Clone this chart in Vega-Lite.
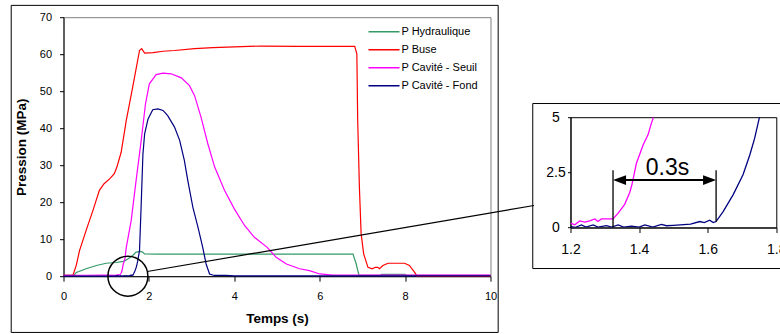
{
 "$schema": "https://vega.github.io/schema/vega-lite/v6.json",
 "background": "white",
 "padding": {"left": 9.5, "top": 4.2, "right": 0, "bottom": 0},
 "config": {"font": "Liberation Sans", "view": {"stroke": null},
   "axis": {"grid": false, "labelFlush": false, "labelOverlap": false, "domainColor": "black", "tickColor": "black", "labelColor": "black", "titleColor": "black", "titleFontWeight": "bold"}},
 "datasets": {
  "one": [{}],
  "curves": [
   {"s":"P Hydraulique","t":0,"v":0.2},{"s":"P Hydraulique","t":0.25,"v":0.3},{"s":"P Hydraulique","t":0.3,"v":1.0},{"s":"P Hydraulique","t":0.53,"v":2.0},{"s":"P Hydraulique","t":0.77,"v":2.9},{"s":"P Hydraulique","t":1.0,"v":3.5},{"s":"P Hydraulique","t":1.23,"v":3.7},{"s":"P Hydraulique","t":1.4,"v":4.0},{"s":"P Hydraulique","t":1.47,"v":4.4},{"s":"P Hydraulique","t":1.55,"v":5.0},{"s":"P Hydraulique","t":1.62,"v":5.6},{"s":"P Hydraulique","t":1.7,"v":6.5},{"s":"P Hydraulique","t":1.8,"v":6.7},{"s":"P Hydraulique","t":1.85,"v":6.5},{"s":"P Hydraulique","t":1.9,"v":6.0},{"s":"P Hydraulique","t":2.2,"v":5.95},{"s":"P Hydraulique","t":4.0,"v":5.95},{"s":"P Hydraulique","t":6.78,"v":5.95},{"s":"P Hydraulique","t":6.85,"v":3.5},{"s":"P Hydraulique","t":6.92,"v":0.2},{"s":"P Hydraulique","t":7.4,"v":0.2},{"s":"P Hydraulique","t":7.45,"v":0.5},{"s":"P Hydraulique","t":8.0,"v":0.5},{"s":"P Hydraulique","t":8.05,"v":0.2},{"s":"P Hydraulique","t":10,"v":0.2},
   {"s":"P Buse","t":0,"v":0.2},{"s":"P Buse","t":0.22,"v":0.2},{"s":"P Buse","t":0.3,"v":3.0},{"s":"P Buse","t":0.375,"v":6.9},{"s":"P Buse","t":0.53,"v":12.4},{"s":"P Buse","t":0.69,"v":17.8},{"s":"P Buse","t":0.84,"v":23.2},{"s":"P Buse","t":0.95,"v":25.0},{"s":"P Buse","t":1.08,"v":26.3},{"s":"P Buse","t":1.19,"v":27.7},{"s":"P Buse","t":1.25,"v":29.5},{"s":"P Buse","t":1.35,"v":33.5},{"s":"P Buse","t":1.47,"v":42.1},{"s":"P Buse","t":1.62,"v":51.1},{"s":"P Buse","t":1.78,"v":61.0},{"s":"P Buse","t":1.83,"v":61.5},{"s":"P Buse","t":1.9,"v":60.3},{"s":"P Buse","t":2.1,"v":60.4},{"s":"P Buse","t":2.33,"v":60.8},{"s":"P Buse","t":2.6,"v":61.0},{"s":"P Buse","t":3.07,"v":61.5},{"s":"P Buse","t":3.5,"v":61.8},{"s":"P Buse","t":4.0,"v":62.0},{"s":"P Buse","t":4.63,"v":62.2},{"s":"P Buse","t":5.5,"v":62.1},{"s":"P Buse","t":6.82,"v":62.1},{"s":"P Buse","t":6.87,"v":60.1},{"s":"P Buse","t":6.89,"v":42.0},{"s":"P Buse","t":6.93,"v":24.0},{"s":"P Buse","t":6.97,"v":11.5},{"s":"P Buse","t":7.03,"v":6.0},{"s":"P Buse","t":7.13,"v":2.4},{"s":"P Buse","t":7.23,"v":2.0},{"s":"P Buse","t":7.3,"v":2.4},{"s":"P Buse","t":7.36,"v":2.4},{"s":"P Buse","t":7.4,"v":2.0},{"s":"P Buse","t":7.48,"v":2.9},{"s":"P Buse","t":7.6,"v":3.5},{"s":"P Buse","t":7.75,"v":3.5},{"s":"P Buse","t":7.99,"v":3.5},{"s":"P Buse","t":8.1,"v":2.9},{"s":"P Buse","t":8.22,"v":1.1},{"s":"P Buse","t":8.28,"v":0},{"s":"P Buse","t":10,"v":0},
   {"s":"P Cavité - Seuil","t":0,"v":0.2},{"s":"P Cavité - Seuil","t":0.5,"v":0.25},{"s":"P Cavité - Seuil","t":1.0,"v":0.3},{"s":"P Cavité - Seuil","t":1.2,"v":0.2},{"s":"P Cavité - Seuil","t":1.2125,"v":0.12},{"s":"P Cavité - Seuil","t":1.227,"v":0.3},{"s":"P Cavité - Seuil","t":1.242,"v":0.24},{"s":"P Cavité - Seuil","t":1.256,"v":0.3},{"s":"P Cavité - Seuil","t":1.271,"v":0.39},{"s":"P Cavité - Seuil","t":1.28,"v":0.27},{"s":"P Cavité - Seuil","t":1.29,"v":0.39},{"s":"P Cavité - Seuil","t":1.324,"v":0.39},{"s":"P Cavité - Seuil","t":1.339,"v":0.65},{"s":"P Cavité - Seuil","t":1.358,"v":1.05},{"s":"P Cavité - Seuil","t":1.373,"v":1.6},{"s":"P Cavité - Seuil","t":1.38,"v":2.0},{"s":"P Cavité - Seuil","t":1.392,"v":2.9},{"s":"P Cavité - Seuil","t":1.412,"v":3.75},{"s":"P Cavité - Seuil","t":1.426,"v":4.2},{"s":"P Cavité - Seuil","t":1.436,"v":4.73},{"s":"P Cavité - Seuil","t":1.442,"v":5.0},{"s":"P Cavité - Seuil","t":1.47,"v":7.8},{"s":"P Cavité - Seuil","t":1.585,"v":15.0},{"s":"P Cavité - Seuil","t":1.7,"v":25.9},{"s":"P Cavité - Seuil","t":1.82,"v":36.7},{"s":"P Cavité - Seuil","t":1.92,"v":46.6},{"s":"P Cavité - Seuil","t":2.01,"v":52.0},{"s":"P Cavité - Seuil","t":2.17,"v":54.5},{"s":"P Cavité - Seuil","t":2.33,"v":54.9},{"s":"P Cavité - Seuil","t":2.52,"v":54.7},{"s":"P Cavité - Seuil","t":2.76,"v":53.6},{"s":"P Cavité - Seuil","t":2.95,"v":51.5},{"s":"P Cavité - Seuil","t":3.07,"v":48.8},{"s":"P Cavité - Seuil","t":3.22,"v":43.0},{"s":"P Cavité - Seuil","t":3.38,"v":35.8},{"s":"P Cavité - Seuil","t":3.54,"v":29.5},{"s":"P Cavité - Seuil","t":3.77,"v":23.2},{"s":"P Cavité - Seuil","t":4.0,"v":18.2},{"s":"P Cavité - Seuil","t":4.24,"v":13.7},{"s":"P Cavité - Seuil","t":4.47,"v":10.5},{"s":"P Cavité - Seuil","t":4.77,"v":7.8},{"s":"P Cavité - Seuil","t":4.98,"v":5.1},{"s":"P Cavité - Seuil","t":5.22,"v":3.3},{"s":"P Cavité - Seuil","t":5.53,"v":2.0},{"s":"P Cavité - Seuil","t":5.76,"v":1.5},{"s":"P Cavité - Seuil","t":6.0,"v":0.6},{"s":"P Cavité - Seuil","t":6.3,"v":0.3},{"s":"P Cavité - Seuil","t":10,"v":0.3},
   {"s":"P Cavité - Fond","t":0,"v":0},{"s":"P Cavité - Fond","t":1.0,"v":0.02},{"s":"P Cavité - Fond","t":1.2,"v":0.05},{"s":"P Cavité - Fond","t":1.213,"v":0.0},{"s":"P Cavité - Fond","t":1.232,"v":0.12},{"s":"P Cavité - Fond","t":1.245,"v":0.02},{"s":"P Cavité - Fond","t":1.266,"v":0.12},{"s":"P Cavité - Fond","t":1.28,"v":0.02},{"s":"P Cavité - Fond","t":1.305,"v":0.08},{"s":"P Cavité - Fond","t":1.32,"v":0.02},{"s":"P Cavité - Fond","t":1.339,"v":0.12},{"s":"P Cavité - Fond","t":1.355,"v":0.02},{"s":"P Cavité - Fond","t":1.378,"v":0.06},{"s":"P Cavité - Fond","t":1.4,"v":0.02},{"s":"P Cavité - Fond","t":1.417,"v":0.12},{"s":"P Cavité - Fond","t":1.44,"v":0.02},{"s":"P Cavité - Fond","t":1.465,"v":0.14},{"s":"P Cavité - Fond","t":1.48,"v":0.08},{"s":"P Cavité - Fond","t":1.5,"v":0.1},{"s":"P Cavité - Fond","t":1.52,"v":0.12},{"s":"P Cavité - Fond","t":1.55,"v":0.15},{"s":"P Cavité - Fond","t":1.577,"v":0.27},{"s":"P Cavité - Fond","t":1.59,"v":0.22},{"s":"P Cavité - Fond","t":1.606,"v":0.33},{"s":"P Cavité - Fond","t":1.616,"v":0.22},{"s":"P Cavité - Fond","t":1.6245,"v":0.27},{"s":"P Cavité - Fond","t":1.645,"v":0.72},{"s":"P Cavité - Fond","t":1.674,"v":1.48},{"s":"P Cavité - Fond","t":1.703,"v":2.39},{"s":"P Cavité - Fond","t":1.723,"v":3.3},{"s":"P Cavité - Fond","t":1.737,"v":4.05},{"s":"P Cavité - Fond","t":1.751,"v":5.0},{"s":"P Cavité - Fond","t":1.78,"v":6.9},{"s":"P Cavité - Fond","t":1.82,"v":19.6},{"s":"P Cavité - Fond","t":1.86,"v":33.0},{"s":"P Cavité - Fond","t":1.9,"v":38.5},{"s":"P Cavité - Fond","t":1.98,"v":42.5},{"s":"P Cavité - Fond","t":2.09,"v":45.0},{"s":"P Cavité - Fond","t":2.21,"v":45.2},{"s":"P Cavité - Fond","t":2.33,"v":44.8},{"s":"P Cavité - Fond","t":2.44,"v":43.4},{"s":"P Cavité - Fond","t":2.6,"v":40.3},{"s":"P Cavité - Fond","t":2.72,"v":36.7},{"s":"P Cavité - Fond","t":2.83,"v":31.3},{"s":"P Cavité - Fond","t":2.91,"v":25.9},{"s":"P Cavité - Fond","t":3.03,"v":18.6},{"s":"P Cavité - Fond","t":3.15,"v":13.2},{"s":"P Cavité - Fond","t":3.26,"v":7.8},{"s":"P Cavité - Fond","t":3.34,"v":3.3},{"s":"P Cavité - Fond","t":3.42,"v":0.6},{"s":"P Cavité - Fond","t":3.53,"v":0.2},{"s":"P Cavité - Fond","t":3.8,"v":0.2},{"s":"P Cavité - Fond","t":4.0,"v":0.1},{"s":"P Cavité - Fond","t":10,"v":0.1}
  ]
 },
 "spacing": -4,
 "resolve": {"scale": {"x": "independent", "y": "independent"}},
 "hconcat": [
  {
   "width": 427, "height": 259,
   "view": {"stroke": "#808080"},
   "layer": [
    {
     "data": {"name": "curves"},
     "mark": {"type": "line", "strokeWidth": 1.2},
     "encoding": {
      "x": {"field": "t", "type": "quantitative", "scale": {"domain": [0, 10], "nice": false},
        "axis": {"title": "Temps (s)", "values": [0, 2, 4, 6, 8, 10], "tickSize": 5, "labelPadding": 9, "labelFontSize": 11, "titleFontSize": 13.5, "titlePadding": 10.5}},
      "y": {"field": "v", "type": "quantitative", "scale": {"domain": [0, 70], "nice": false},
        "axis": {"title": "Pression (MPa)", "values": [0, 10, 20, 30, 40, 50, 60, 70], "tickSize": 4, "labelPadding": 8, "labelFontSize": 11, "titleFontSize": 13.5, "titlePadding": 11}},
      "color": {"field": "s", "type": "nominal",
        "scale": {"domain": ["P Hydraulique", "P Buse", "P Cavité - Seuil", "P Cavité - Fond"], "range": ["#339966", "#FF0000", "#FF00FF", "#000080"]},
        "legend": {"orient": "none", "legendX": 304, "legendY": 6, "title": null, "symbolType": "stroke", "symbolSize": 961, "symbolStrokeWidth": 1.5, "labelFontSize": 11, "labelColor": "black", "labelOffset": 1, "clipHeight": 17.3, "rowPadding": 0, "padding": 0}}
     }
    },
    {
     "data": {"name": "one"},
     "mark": {"type": "rect", "fill": null, "stroke": "black", "strokeWidth": 1},
     "encoding": {
      "x": {"datum": -1.225, "type": "quantitative", "scale": {"domain": [0, 10], "nice": false},
        "axis": {"title": "Temps (s)", "values": [0, 2, 4, 6, 8, 10], "tickSize": 5, "labelPadding": 9, "labelFontSize": 11, "titleFontSize": 13.5, "titlePadding": 10.5}},
      "x2": {"datum": 10.18},
      "y": {"datum": 73.2, "type": "quantitative", "scale": {"domain": [0, 70], "nice": false},
        "axis": {"title": "Pression (MPa)", "values": [0, 10, 20, 30, 40, 50, 60, 70], "tickSize": 4, "labelPadding": 8, "labelFontSize": 11, "titleFontSize": 13.5, "titlePadding": 11}},
      "y2": {"datum": -15.2}
     }
    },
    {
     "data": {"name": "one"},
     "mark": {"type": "point", "shape": "circle", "size": 1600, "filled": false, "stroke": "black", "strokeWidth": 1.5, "opacity": 1},
     "encoding": {
      "x": {"datum": 1.508, "type": "quantitative", "scale": {"domain": [0, 10], "nice": false},
        "axis": {"title": "Temps (s)", "values": [0, 2, 4, 6, 8, 10], "tickSize": 5, "labelPadding": 9, "labelFontSize": 11, "titleFontSize": 13.5, "titlePadding": 10.5}},
      "y": {"datum": 0, "type": "quantitative", "scale": {"domain": [0, 70], "nice": false},
        "axis": {"title": "Pression (MPa)", "values": [0, 10, 20, 30, 40, 50, 60, 70], "tickSize": 4, "labelPadding": 8, "labelFontSize": 11, "titleFontSize": 13.5, "titlePadding": 11}}
     }
    },
    {
     "data": {"name": "one"},
     "mark": {"type": "rule", "stroke": "black", "strokeWidth": 1.2},
     "encoding": {
      "x": {"datum": 1.96, "type": "quantitative", "scale": {"domain": [0, 10], "nice": false},
        "axis": {"title": "Temps (s)", "values": [0, 2, 4, 6, 8, 10], "tickSize": 5, "labelPadding": 9, "labelFontSize": 11, "titleFontSize": 13.5, "titlePadding": 10.5}},
      "x2": {"datum": 11.02},
      "y": {"datum": 1.27, "type": "quantitative", "scale": {"domain": [0, 70], "nice": false},
        "axis": {"title": "Pression (MPa)", "values": [0, 10, 20, 30, 40, 50, 60, 70], "tickSize": 4, "labelPadding": 8, "labelFontSize": 11, "titleFontSize": 13.5, "titlePadding": 11}},
      "y2": {"datum": 19.1}
     }
    }
   ]
  },
  {
   "spacing": 0,
   "vconcat": [
    {
     "width": 10, "height": 84.8,
     "view": {"stroke": null},
     "data": {"name": "one"},
     "mark": {"type": "text", "text": ""},
     "encoding": {}
    },
    {
     "width": 205.8, "height": 110.3,
     "view": {"stroke": "black"},
     "layer": [
      {
       "data": {"name": "curves"},
       "transform": [{"filter": "datum.s == 'P Cavité - Seuil' && datum.t >= 1.2 && datum.t <= 1.8 && datum.v <= 5.05"}],
       "mark": {"type": "line", "stroke": "#FF00FF", "strokeWidth": 1.3, "clip": true},
       "encoding": {
        "x": {"field": "t", "type": "quantitative", "scale": {"domain": [1.2, 1.8], "nice": false, "zero": false},
          "axis": {"title": null, "values": [1.2, 1.4, 1.6, 1.8], "format": ".1f", "tickSize": 5, "labelPadding": 10, "labelFontSize": 14}},
        "y": {"field": "v", "type": "quantitative", "scale": {"domain": [0, 5], "nice": false},
          "axis": {"title": null, "values": [0, 2.5, 5], "format": ".1~f", "tickSize": 3, "labelPadding": 12, "labelAlign": "center", "labelFontSize": 14}}
       }
      },
      {
       "data": {"name": "curves"},
       "transform": [{"filter": "datum.s == 'P Cavité - Fond' && datum.t >= 1.2 && datum.t <= 1.8 && datum.v <= 5.05"}],
       "mark": {"type": "line", "stroke": "#000080", "strokeWidth": 1.3, "clip": true},
       "encoding": {
        "x": {"field": "t", "type": "quantitative", "scale": {"domain": [1.2, 1.8], "nice": false, "zero": false},
          "axis": {"title": null, "values": [1.2, 1.4, 1.6, 1.8], "format": ".1f", "tickSize": 5, "labelPadding": 10, "labelFontSize": 14}},
        "y": {"field": "v", "type": "quantitative", "scale": {"domain": [0, 5], "nice": false},
          "axis": {"title": null, "values": [0, 2.5, 5], "format": ".1~f", "tickSize": 3, "labelPadding": 12, "labelAlign": "center", "labelFontSize": 14}}
       }
      },
      {
       "data": {"name": "one"},
       "mark": {"type": "rect", "fill": null, "stroke": "black", "strokeWidth": 1},
       "encoding": {
        "x": {"datum": 1.09, "type": "quantitative", "scale": {"domain": [1.2, 1.8], "nice": false, "zero": false},
          "axis": {"title": null, "values": [1.2, 1.4, 1.6, 1.8], "format": ".1f", "tickSize": 5, "labelPadding": 10, "labelFontSize": 14}},
        "x2": {"datum": 1.86},
        "y": {"datum": 5.62, "type": "quantitative", "scale": {"domain": [0, 5], "nice": false},
          "axis": {"title": null, "values": [0, 2.5, 5], "format": ".1~f", "tickSize": 3, "labelPadding": 12, "labelAlign": "center", "labelFontSize": 14}},
        "y2": {"datum": -1.86}
       }
      },
      {
       "data": {"name": "one"},
       "mark": {"type": "rule", "stroke": "black", "strokeWidth": 1.3},
       "encoding": {
        "x": {"datum": 1.324, "type": "quantitative", "scale": {"domain": [1.2, 1.8], "nice": false, "zero": false},
          "axis": {"title": null, "values": [1.2, 1.4, 1.6, 1.8], "format": ".1f", "tickSize": 5, "labelPadding": 10, "labelFontSize": 14}},
        "y": {"datum": 0, "type": "quantitative", "scale": {"domain": [0, 5], "nice": false},
          "axis": {"title": null, "values": [0, 2.5, 5], "format": ".1~f", "tickSize": 3, "labelPadding": 12, "labelAlign": "center", "labelFontSize": 14}},
        "y2": {"datum": 2.6}
       }
      },
      {
       "data": {"name": "one"},
       "mark": {"type": "rule", "stroke": "black", "strokeWidth": 1.3},
       "encoding": {
        "x": {"datum": 1.6245, "type": "quantitative", "scale": {"domain": [1.2, 1.8], "nice": false, "zero": false},
          "axis": {"title": null, "values": [1.2, 1.4, 1.6, 1.8], "format": ".1f", "tickSize": 5, "labelPadding": 10, "labelFontSize": 14}},
        "y": {"datum": 0.27, "type": "quantitative", "scale": {"domain": [0, 5], "nice": false},
          "axis": {"title": null, "values": [0, 2.5, 5], "format": ".1~f", "tickSize": 3, "labelPadding": 12, "labelAlign": "center", "labelFontSize": 14}},
        "y2": {"datum": 2.6}
       }
      },
      {
       "data": {"name": "one"},
       "mark": {"type": "rule", "stroke": "black", "strokeWidth": 2},
       "encoding": {
        "x": {"datum": 1.335, "type": "quantitative", "scale": {"domain": [1.2, 1.8], "nice": false, "zero": false},
          "axis": {"title": null, "values": [1.2, 1.4, 1.6, 1.8], "format": ".1f", "tickSize": 5, "labelPadding": 10, "labelFontSize": 14}},
        "x2": {"datum": 1.612},
        "y": {"datum": 2.15, "type": "quantitative", "scale": {"domain": [0, 5], "nice": false},
          "axis": {"title": null, "values": [0, 2.5, 5], "format": ".1~f", "tickSize": 3, "labelPadding": 12, "labelAlign": "center", "labelFontSize": 14}}
       }
      },
      {
       "data": {"name": "one"},
       "mark": {"type": "point", "shape": "M-1,0L1,-0.75L1,0.75Z", "size": 169, "filled": true, "fill": "black", "opacity": 1, "strokeWidth": 0},
       "encoding": {
        "x": {"datum": 1.343, "type": "quantitative", "scale": {"domain": [1.2, 1.8], "nice": false, "zero": false},
          "axis": {"title": null, "values": [1.2, 1.4, 1.6, 1.8], "format": ".1f", "tickSize": 5, "labelPadding": 10, "labelFontSize": 14}},
        "y": {"datum": 2.15, "type": "quantitative", "scale": {"domain": [0, 5], "nice": false},
          "axis": {"title": null, "values": [0, 2.5, 5], "format": ".1~f", "tickSize": 3, "labelPadding": 12, "labelAlign": "center", "labelFontSize": 14}}
       }
      },
      {
       "data": {"name": "one"},
       "mark": {"type": "point", "shape": "M1,0L-1,-0.75L-1,0.75Z", "size": 169, "filled": true, "fill": "black", "opacity": 1, "strokeWidth": 0},
       "encoding": {
        "x": {"datum": 1.6055, "type": "quantitative", "scale": {"domain": [1.2, 1.8], "nice": false, "zero": false},
          "axis": {"title": null, "values": [1.2, 1.4, 1.6, 1.8], "format": ".1f", "tickSize": 5, "labelPadding": 10, "labelFontSize": 14}},
        "y": {"datum": 2.15, "type": "quantitative", "scale": {"domain": [0, 5], "nice": false},
          "axis": {"title": null, "values": [0, 2.5, 5], "format": ".1~f", "tickSize": 3, "labelPadding": 12, "labelAlign": "center", "labelFontSize": 14}}
       }
      },
      {
       "data": {"name": "one"},
       "mark": {"type": "text", "text": "0.3s", "fontSize": 23, "color": "black", "align": "center", "baseline": "middle"},
       "encoding": {
        "x": {"datum": 1.483, "type": "quantitative", "scale": {"domain": [1.2, 1.8], "nice": false, "zero": false},
          "axis": {"title": null, "values": [1.2, 1.4, 1.6, 1.8], "format": ".1f", "tickSize": 5, "labelPadding": 10, "labelFontSize": 14}},
        "y": {"datum": 2.69, "type": "quantitative", "scale": {"domain": [0, 5], "nice": false},
          "axis": {"title": null, "values": [0, 2.5, 5], "format": ".1~f", "tickSize": 3, "labelPadding": 12, "labelAlign": "center", "labelFontSize": 14}}
       }
      }
     ]
    }
   ]
  }
 ]
}
